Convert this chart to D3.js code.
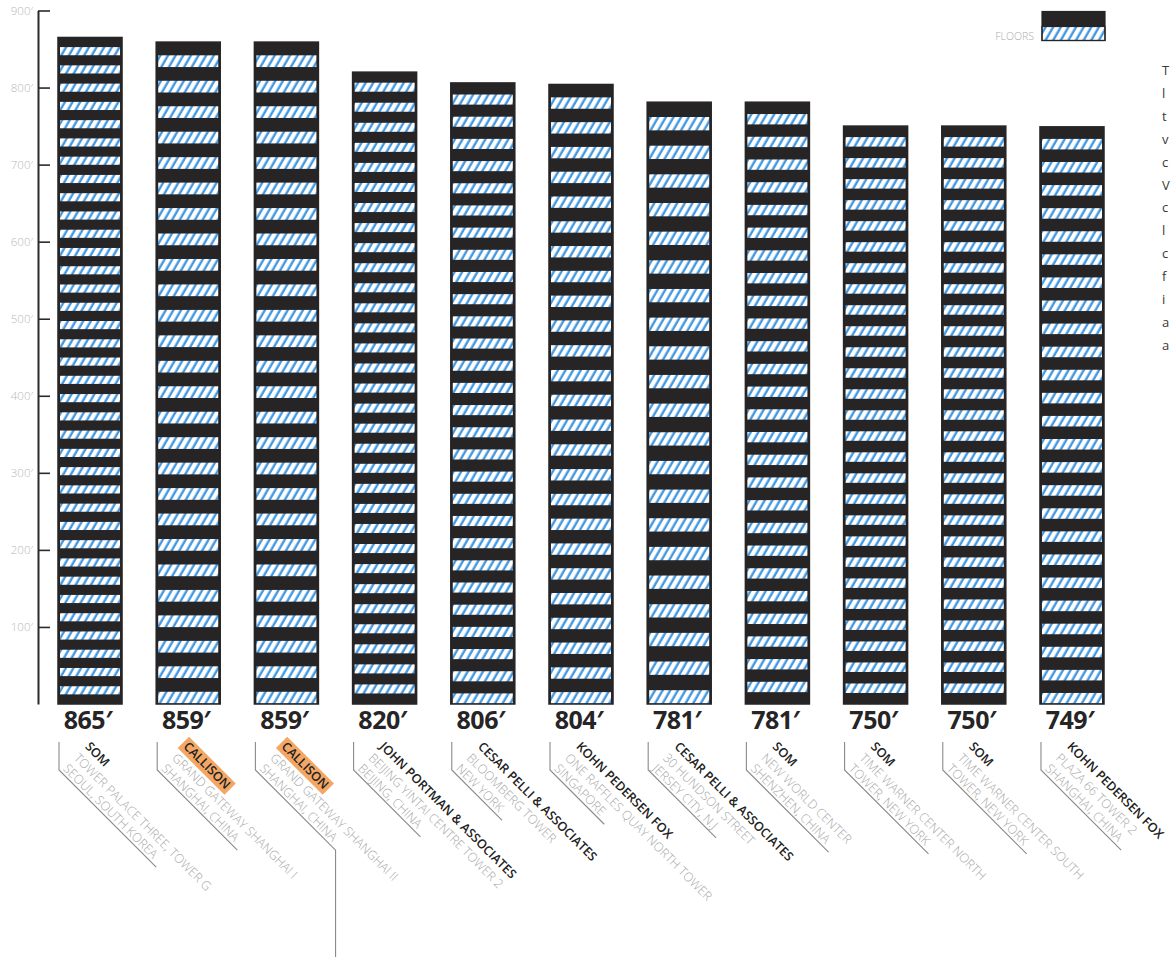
<!DOCTYPE html>
<html>
<head>
<meta charset="utf-8">
<script src="https://cdn.jsdelivr.net/npm/d3@7"></script>
<style>
  html, body { margin: 0; padding: 0; background: #fff; overflow: hidden; }
  svg { display: block; }
</style>
</head>
<body>
<svg id="chart" width="1171" height="957"></svg>
<script>
// ---------------- data ----------------
const heights = [865, 859, 859, 820, 806, 804, 781, 781, 750, 750, 749];
const floors = [73, 52, 52, 63, 56, 50, 42, 53, 55, 55, 50];
const architects = ["SOM", "CALLISON", "CALLISON", "JOHN PORTMAN & ASSOCIATES", "CESAR PELLI & ASSOCIATES",
  "KOHN PEDERSEN FOX", "CESAR PELLI & ASSOCIATES", "SOM", "SOM", "SOM", "KOHN PEDERSEN FOX"];
const buildings = ["TOWER PALACE THREE, TOWER G", "GRAND GATEWAY SHANGHAI I", "GRAND GATEWAY SHANGHAI II",
  "BEIJING YINTAI CENTRE TOWER 2", "BLOOMBERG TOWER", "ONE RAFFLES QUAY NORTH TOWER", "30 HUNDSON STREET",
  "NEW WORLD CENTER", "TIME WARNER CENTER NORTH", "TIME WARNER CENTER SOUTH", "PLAZA 66 TOWER 2"];
const cities = ["SEOUL, SOUTH KOREA", "SHANGHAI, CHINA", "SHANGHAI, CHINA", "BEIJING, CHINA", "NEW YORK",
  "SINGAPORE", "JERSEY CITY, N.J", "SHENZHEN, CHINA", "TOWER, NEW YORK", "TOWER, NEW YORK", "SHANGHAI, CHINA"];
const highlighted = ["CALLISON"];
const tickValues = [100, 200, 300, 400, 500, 600, 700, 800, 900];
const legendLabel = "FLOORS";
// only the first letters of the cropped side column are visible in the source
const sideText = ["T", "l", "t", "v", "c", "V", "c", "l", "c", "f", "i", "a", "a"];

// ---------------- drawing ----------------
const svg = d3.select("#chart");
const W = 1171, H = 957;
svg.append("rect").attr("width", W).attr("height", H).attr("fill", "#fff");

const defs = svg.append("defs");
const pat = defs.append("pattern").attr("id", "hatch")
  .attr("patternUnits", "userSpaceOnUse").attr("width", 6.6).attr("height", 10)
  .attr("patternTransform", "rotate(30)");
pat.append("rect").attr("width", 6.6).attr("height", 10).attr("fill", "#fff");
pat.append("line").attr("x1", 1.6).attr("x2", 1.6).attr("y1", 0).attr("y2", 10)
  .attr("stroke", "#3d95e0").attr("stroke-width", 2.3);

const FONT = "'Open Sans', 'DejaVu Sans', sans-serif";
const INK = "#262425";

const idx = heights.map((d, i) => i);
const x = d3.scaleBand().domain(idx).range([58, 1104]).paddingInner(0.348).paddingOuter(0);
const y = d3.scaleLinear().domain([0, 900]).range([704, 10.5]);

// axis
const axis = d3.axisLeft(y).tickValues(tickValues).tickSizeInner(-12).tickSizeOuter(0)
  .tickPadding(5).tickFormat(d => d + "′");
const ag = svg.append("g").attr("transform", "translate(38,0)").call(axis);
ag.select(".domain").attr("stroke", "#2b2b2b").attr("stroke-width", 2);
ag.selectAll(".tick line").attr("stroke", "#2b2b2b").attr("stroke-width", 1.6);
ag.selectAll(".tick text").attr("fill", "#b9b9b9").attr("font-family", FONT)
  .attr("font-size", 11.5).attr("font-weight", 300);

// bars
const bars = svg.append("g");
idx.forEach(i => {
  const bx = x(i), bw = x.bandwidth();
  const top = y(heights[i]), bot = y(0);
  const g = bars.append("g");
  g.append("rect").attr("x", bx).attr("y", top).attr("width", bw).attr("height", bot - top).attr("fill", INK);
  const h = (bot - top) / floors[i];
  const bands = d3.range(floors[i]).filter(k => k % 2 === 1);
  g.selectAll("rect.band").data(bands).join("rect").attr("class", "band")
    .attr("x", bx + 2).attr("width", bw - 4)
    .attr("y", k => top + k * h + 0.5).attr("height", Math.max(h - 1, 1))
    .attr("fill", "url(#hatch)");
  g.append("rect").attr("x", bx).attr("y", top).attr("width", bw).attr("height", bot - top)
    .attr("fill", "none").attr("stroke", INK).attr("stroke-width", 1.5);
});

// height labels
svg.append("g").selectAll("text").data(idx).join("text")
  .attr("x", i => x(i) + x.bandwidth() / 2 - 2).attr("y", 729)
  .attr("text-anchor", "middle").attr("font-family", FONT).attr("font-weight", 700)
  .attr("font-size", 25).attr("fill", INK).attr("letter-spacing", -0.5)
  .text(i => heights[i] + "′");

// rotated labels with leader lines
const labels = svg.append("g");
idx.forEach(i => {
  const lx = x(i) + 1, cy = 770;
  const g = labels.append("g").attr("transform", `translate(${lx},${cy}) rotate(45)`);
  const city = g.append("text").attr("x", 2).attr("y", -3)
    .attr("font-family", FONT).attr("font-size", 12.5).attr("font-weight", 300)
    .attr("fill", "#a9a9a9").text(cities[i]);
  g.append("text").attr("x", 2).attr("y", -18)
    .attr("font-family", FONT).attr("font-size", 12.5).attr("font-weight", 300)
    .attr("fill", "#a9a9a9").text(buildings[i]);
  const arch = g.append("text").attr("x", 2).attr("y", -34)
    .attr("font-family", FONT).attr("font-size", 12.5).attr("font-weight", 600)
    .attr("fill", "#222").text(architects[i]);
  if (highlighted.includes(architects[i])) {
    const bb = arch.node().getBBox();
    g.insert("rect", "text").attr("x", bb.x - 3).attr("y", bb.y + 1).attr("width", bb.width + 6)
      .attr("height", bb.height - 1).attr("fill", "#f4a765");
  }
  const L = city.node().getComputedTextLength() + 10;
  const d = L / Math.SQRT2;
  let path = `M${lx},742V${cy}L${lx + d},${cy + d}`;
  if (i === 2) path += `V${H}`;
  labels.append("path").attr("d", path).attr("fill", "none")
    .attr("stroke", "#8a8a8a").attr("stroke-width", 1.1);
});

// legend
const lg = svg.append("g");
lg.append("rect").attr("x", 1042).attr("y", 11.5).attr("width", 63).attr("height", 15).attr("fill", INK);
lg.append("rect").attr("x", 1042).attr("y", 26.5).attr("width", 63).attr("height", 14).attr("fill", "url(#hatch)")
  .attr("stroke", INK).attr("stroke-width", 1.2);
lg.append("rect").attr("x", 1042).attr("y", 11.5).attr("width", 63).attr("height", 29)
  .attr("fill", "none").attr("stroke", INK).attr("stroke-width", 1.2);
lg.append("text").attr("x", 1034).attr("y", 40).attr("text-anchor", "end")
  .attr("font-family", FONT).attr("font-size", 10.5).attr("font-weight", 300)
  .attr("fill", "#ababab").text(legendLabel);

// side column (cropped in the source: only first letters visible)
svg.append("g").selectAll("text").data(sideText).join("text")
  .attr("x", 1162).attr("y", (d, i) => 75 + i * 22.9)
  .attr("font-family", FONT).attr("font-size", 13).attr("fill", "#3a3a3a")
  .text(d => d);
</script>
</body>
</html>
